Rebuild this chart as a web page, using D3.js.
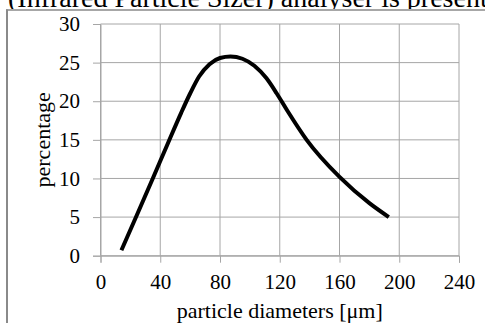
<!DOCTYPE html>
<html><head><meta charset="utf-8">
<script src="https://cdn.jsdelivr.net/npm/d3@7"></script>
<style>html,body{margin:0;padding:0;background:#fff;overflow:hidden}
text{font-family:'Liberation Serif','Times New Roman',serif}</style>
</head><body>
<script>
const diameters = [14, 24, 35, 45, 54, 60, 66, 73, 80, 87, 95, 103, 111, 118, 125, 138, 160, 180, 193];
const percentages = [0.7, 5.1, 10, 14.5, 18.5, 21.0, 23.2, 24.8, 25.6, 25.8, 25.5, 24.6, 23.0, 21.0, 18.8, 15, 10.2, 6.8, 5];
const xTicks = [0, 40, 80, 120, 160, 200, 240];
const yTicks = [0, 5, 10, 15, 20, 25, 30];
const xTitle = "particle diameters [\u03bcm]";
const yTitle = "percentage";
const caption = "(Infrared Particle Sizer) analyser is presented";

const W = 485, H = 323;
const svg = d3.select("body").append("svg").attr("width", W).attr("height", H);
const serif = "'Liberation Serif','Times New Roman',serif";

svg.append("text").attr("x", 8).attr("y", 7).style("font-family", serif)
  .attr("font-size", 28).attr("fill", "#000").text(caption);
svg.append("rect").attr("x", 6).attr("y", 9).attr("width", W).attr("height", H).attr("fill", "#fff");
svg.append("line").attr("x1", 6).attr("x2", W).attr("y1", 10).attr("y2", 10)
  .attr("stroke", "#8a8a8a").attr("stroke-width", 1.5);
svg.append("line").attr("x1", 7).attr("x2", 7).attr("y1", 9.5).attr("y2", H)
  .attr("stroke", "#8a8a8a").attr("stroke-width", 2);

const x = d3.scaleLinear().domain([0, 240]).range([100.5, 459]);
const y = d3.scaleLinear().domain([0, 30]).range([255.7, 24]);
const gridColor = "#a6a6a6";

const g = svg.append("g");
g.selectAll(".vg").data(xTicks).join("line")
  .attr("x1", d => x(d)).attr("x2", d => x(d)).attr("y1", y(30)).attr("y2", y(0))
  .attr("stroke", gridColor).attr("stroke-width", 1);
g.selectAll(".hg").data(yTicks).join("line")
  .attr("x1", x(0)).attr("x2", x(240)).attr("y1", d => y(d)).attr("y2", d => y(d))
  .attr("stroke", gridColor).attr("stroke-width", 1);

const ax = svg.append("g").attr("transform", `translate(0,${y(0)})`)
  .call(d3.axisBottom(x).tickValues(xTicks).tickSize(7).tickPadding(11));
const ay = svg.append("g").attr("transform", `translate(${x(0)},0)`)
  .call(d3.axisLeft(y).tickValues(yTicks).tickSize(7.5).tickPadding(13));
[ax, ay].forEach(a => {
  a.attr("font-family", null);
  a.select(".domain").attr("stroke", gridColor);
  a.selectAll(".tick line").attr("stroke", gridColor);
  a.selectAll(".tick text").style("font-family", serif).attr("font-size", 21).attr("fill", "#000");
});

const line = d3.line().x((d, i) => x(diameters[i])).y(d => y(d)).curve(d3.curveMonotoneX);
svg.append("path").datum(percentages).attr("d", line).attr("fill", "none")
  .attr("stroke", "#000").attr("stroke-width", 4).attr("stroke-linecap", "butt");

svg.append("text").attr("x", (x(0) + x(240)) / 2).attr("y", 318).attr("text-anchor", "middle")
  .style("font-family", serif).attr("font-size", 22).text(xTitle);
svg.append("text").attr("transform", `translate(50,${(y(0) + y(30)) / 2})rotate(-90)`)
  .attr("text-anchor", "middle").style("font-family", serif).attr("font-size", 22).text(yTitle);
</script>
</body></html>
